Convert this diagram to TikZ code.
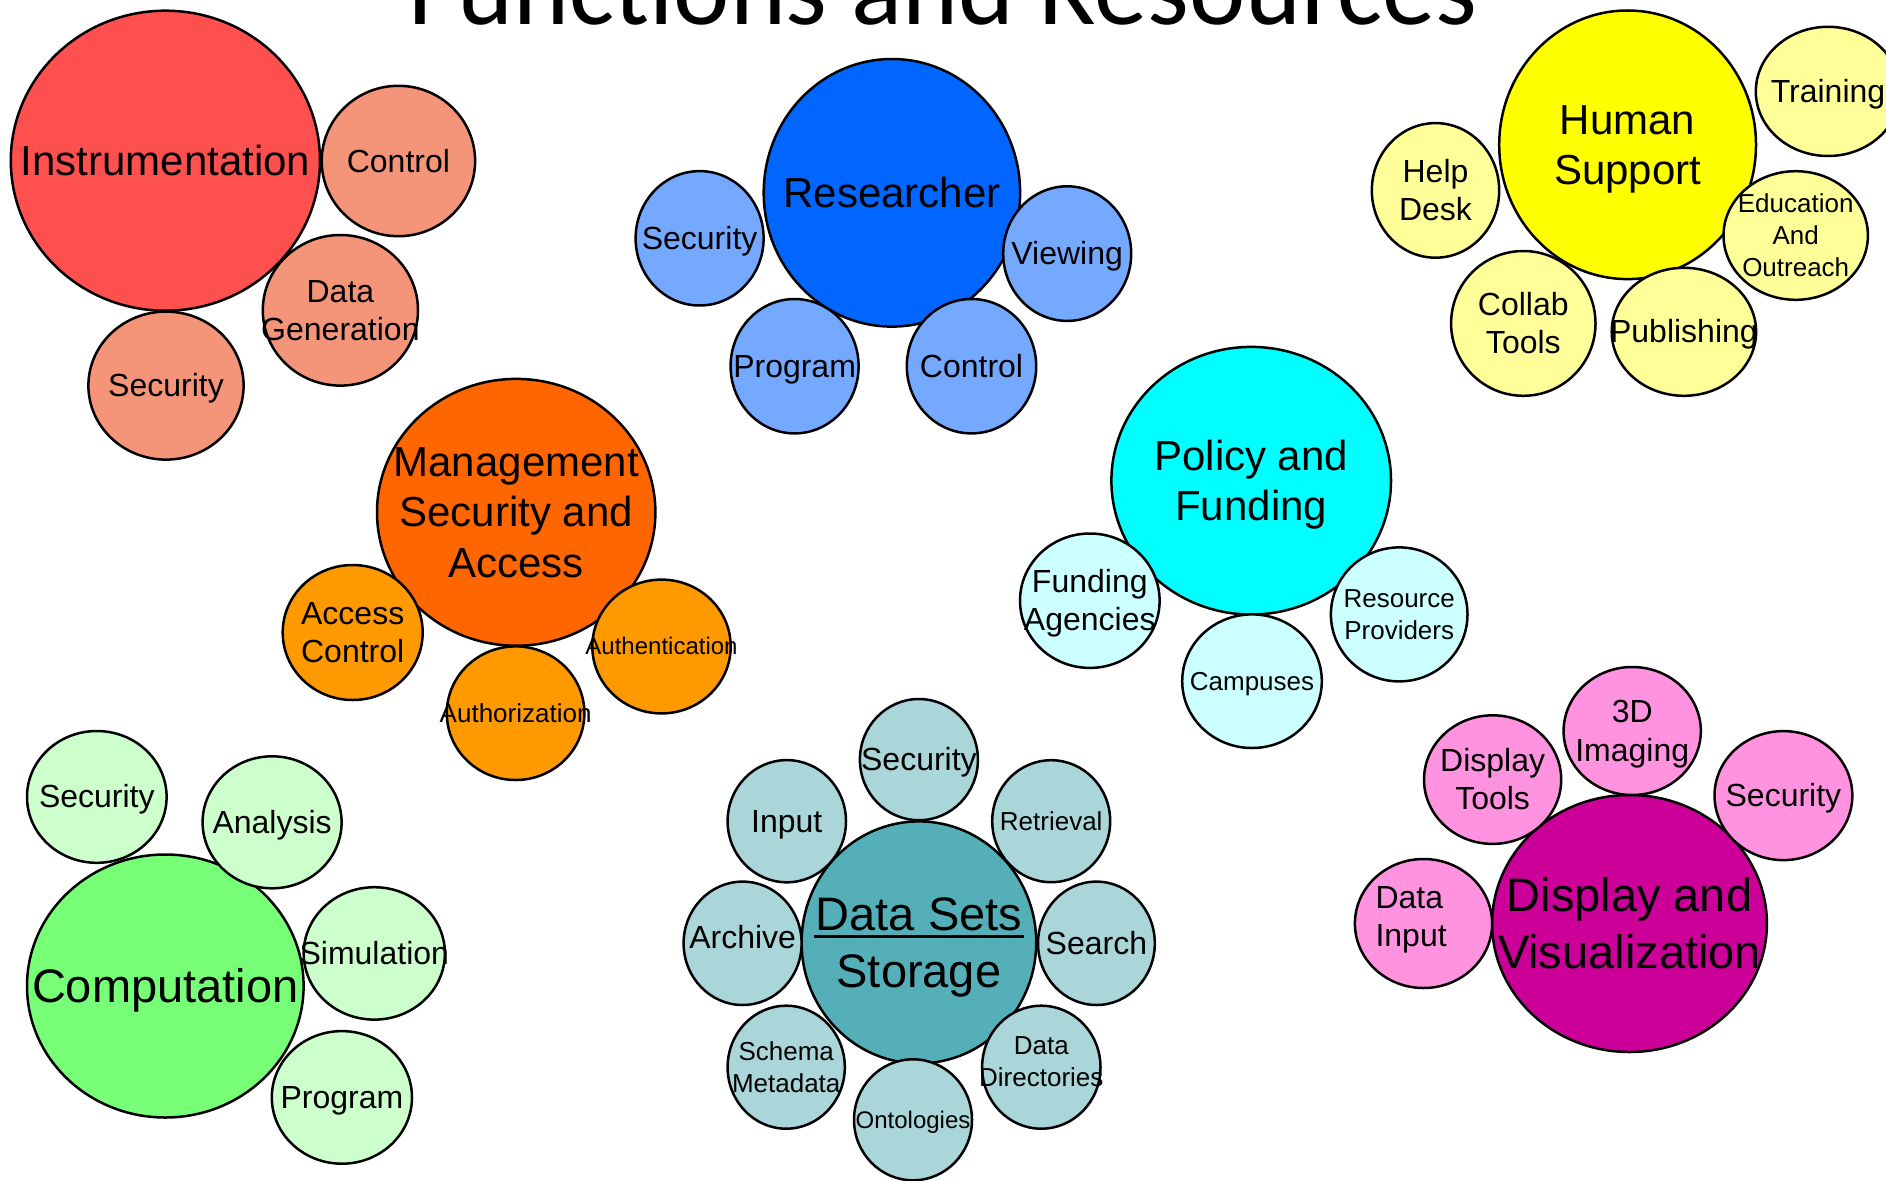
\documentclass[tikz,border=0pt]{standalone}
\usepackage{fontspec}
\setmainfont{Liberation Sans}
\newfontfamily\titlefont{Carlito}
\usetikzlibrary{shapes.geometric}
\pgfdeclarelayer{fg}
\pgfsetlayers{main,fg}
\definecolor{cInstr}{HTML}{FF5050}
\definecolor{cInstrS}{HTML}{F4957A}
\definecolor{cRes}{HTML}{0066FF}
\definecolor{cResS}{HTML}{75A9FF}
\definecolor{cMgmt}{HTML}{FF6600}
\definecolor{cMgmtS}{HTML}{FF9900}
\definecolor{cHum}{HTML}{FFFF00}
\definecolor{cHumS}{HTML}{FFFF99}
\definecolor{cPol}{HTML}{00FFFF}
\definecolor{cPolS}{HTML}{CCFFFF}
\definecolor{cComp}{HTML}{77FF77}
\definecolor{cCompS}{HTML}{CCFFCC}
\definecolor{cData}{HTML}{55AFB8}
\definecolor{cDataS}{HTML}{AAD5D9}
\definecolor{cDisp}{HTML}{CC0099}
\definecolor{cDispS}{HTML}{FF93DF}
\newcommand\ulbar[1]{\setbox0\hbox{#1}\kern-2pt\rlap{\rule[-8.3pt]{\dimexpr\wd0+4pt\relax}{3.3pt}}\kern2pt\box0}
\newcommand\mystrut{\rule[-0.212em]{0pt}{1.117em}}
\tikzset{
  bubble/.style={ellipse, draw=black, line width=2.5pt, inner sep=0pt, outer sep=0pt},
  f47/.style={font=\fontsize{47}{57}\selectfont},
  f42/.style={font=\fontsize{42}{50.4}\selectfont},
  f32/.style={font=\fontsize{32}{38.4}\selectfont},
  f26/.style={font=\fontsize{26}{31.8}\selectfont},
  f24/.style={font=\fontsize{24}{28.8}\selectfont},
  leftlbl/.style={f32, align=left, xshift=-12.4pt, yshift=7pt},
  up26/.style={f26, yshift=6pt},
  up32/.style={f32, yshift=6pt},
  lbl/.style={inner sep=0pt, text=black, align=center},
}
% name, x, y, rx, ry, fill, text style, text
\newcommand\bub[8]{%
  \node[bubble, fill=#6, minimum width=2*#4pt, minimum height=2*#5pt] (#1) at (#2,#3) {};
  \begin{pgfonlayer}{fg}\node[lbl, #7] (#1-t) at (#1.center) {\mystrut#8\mystrut};\end{pgfonlayer}}
\begin{document}
\begin{tikzpicture}[x=1pt, y=-1pt]
\useasboundingbox (0,0) rectangle (1886,1180);
\node[anchor=base, inner sep=0pt, font=\titlefont\fontsize{106.6}{120}\selectfont] (title) at (943,24.5) {Functions and Resources};
% Instrumentation
\bub{instr}{165.4}{160.7}{154.6}{150}{cInstr}{f42}{Instrumentation}
\bub{instrC}{398.4}{161}{76.7}{75.2}{cInstrS}{f32}{Control}
\bub{instrD}{340.4}{310.3}{77.6}{75.3}{cInstrS}{f32}{Data\\Generation}
\bub{instrS}{166}{385.6}{77.6}{74}{cInstrS}{f32}{Security}
% Researcher
\bub{res}{891.9}{192.8}{128.2}{133.8}{cRes}{f42}{Researcher}
\bub{resS}{699.6}{238.3}{64}{67.2}{cResS}{f32}{Security}
\bub{resP}{794.6}{366.2}{64}{67.2}{cResS}{f32}{Program}
\bub{resC}{971.5}{366.2}{64.7}{67.2}{cResS}{f32}{Control}
\bub{resV}{1067.2}{253.6}{64}{67.3}{cResS}{f32}{Viewing}
% Management
\bub{mgmt}{516.2}{512.3}{139.2}{133.4}{cMgmt}{f42}{Management\\Security and\\Access}
\bub{mgmtAC}{352.7}{632.5}{70}{67.5}{cMgmtS}{f32}{Access\\Control}
\bub{mgmtAu}{661.5}{646.5}{69.2}{66.9}{cMgmtS}{f24}{Authentication}
\bub{mgmtAz}{515.6}{713.2}{68.8}{66.8}{cMgmtS}{f26}{Authorization}
% Human support
\bub{hum}{1627.6}{144.8}{128.4}{134.3}{cHum}{f42}{Human\\Support}
\bub{humT}{1828}{91.4}{72.2}{64.6}{cHumS}{f32}{Training}
\bub{humH}{1435.5}{190.4}{63.7}{67.3}{cHumS}{f32}{Help\\Desk}
\bub{humE}{1795.7}{235.5}{72.2}{64.3}{cHumS}{f26}{Education\\And\\Outreach}
\bub{humC}{1523.3}{323.4}{72.2}{72.4}{cHumS}{f32}{Collab\\Tools}
\bub{humP}{1683.9}{331.8}{72.2}{64}{cHumS}{f32}{Publishing}
% Policy
\bub{pol}{1251.2}{480.7}{139.8}{133.8}{cPol}{f42}{Policy and\\Funding}
\bub{polF}{1089.8}{600.7}{69.8}{67.2}{cPolS}{f32}{Funding\\Agencies}
\bub{polR}{1399.2}{614.4}{68.3}{67}{cPolS}{f26}{Resource\\Providers}
\bub{polC}{1252}{681.2}{69.8}{66.8}{cPolS}{f26}{Campuses}
% Computation
\bub{comp}{165.3}{986}{138.3}{131.5}{cComp}{f47}{Computation}
\bub{compS}{96.8}{796.9}{69.8}{65.9}{cCompS}{f32}{Security}
\bub{compA}{272.1}{822.3}{69.5}{66}{cCompS}{f32}{Analysis}
\bub{compSi}{374.3}{953.4}{70.6}{66.2}{cCompS}{f32}{Simulation}
\bub{compP}{341.9}{1097.4}{70.1}{66.3}{cCompS}{f32}{Program}
% Data sets
\bub{data}{918.9}{942.4}{117.3}{121}{cData}{f47}{\ulbar{Data Sets}\\Storage}
\bub{dataS}{918.9}{759.6}{59}{60.6}{cDataS}{f32}{Security}
\bub{dataI}{786.8}{821.2}{59.2}{61.1}{cDataS}{f32}{Input}
\bub{dataA}{742.6}{943.3}{59}{61.7}{cDataS}{up32}{Archive}
\bub{dataM}{786.2}{1067.2}{58.6}{61.5}{cDataS}{f26}{Schema\\Metadata}
\bub{dataO}{913}{1119.8}{59}{60.5}{cDataS}{f24}{Ontologies}
\bub{dataR}{1051.2}{821.2}{59}{61}{cDataS}{f26}{Retrieval}
\bub{dataSe}{1096.4}{943.3}{58.4}{61.7}{cDataS}{f32}{Search}
\bub{dataD}{1041.3}{1067.2}{59.2}{61.5}{cDataS}{up26}{Data\\Directories}
% Display
\bub{disp}{1629.5}{923.5}{137.4}{128.5}{cDisp}{f47}{Display and\\Visualization}
\bub{disp3}{1632.2}{731}{68.6}{64}{cDispS}{f32}{3D\\Imaging}
\bub{dispT}{1492.6}{779.6}{68.6}{64.3}{cDispS}{f32}{Display\\Tools}
\bub{dispS}{1783.4}{795.6}{68.9}{64.5}{cDispS}{f32}{Security}
\bub{dispI}{1423.5}{923.5}{68.6}{64.5}{cDispS}{leftlbl}{Data\\Input}
\end{tikzpicture}
\end{document}
